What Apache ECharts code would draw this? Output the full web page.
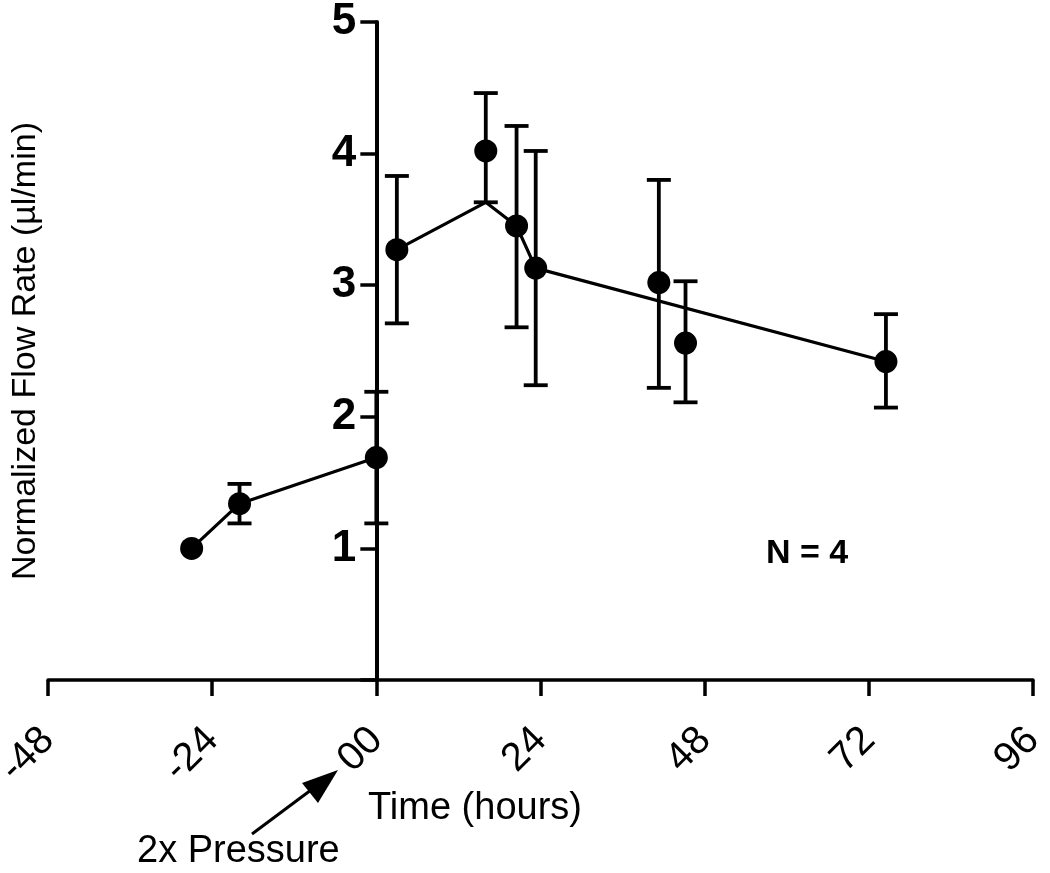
<!DOCTYPE html>
<html>
<head>
<meta charset="utf-8">
<script src="https://cdn.jsdelivr.net/npm/echarts@6/dist/echarts.min.js"></script>
<style>
  html, body { margin: 0; padding: 0; background: #fff; }
  #chart { width: 1050px; height: 873px; }
</style>
</head>
<body>
<div id="chart"></div>
<script>
// data
const hours = [-27, -20, 0, 3, 16, 20.5, 23.3, 41.3, 45.2, 74.5]
const means = [1.0, 1.34, 1.69, 3.27, 4.02, 3.45, 3.13, 3.02, 2.56, 2.42]
const upper = [null, 1.49, 2.19, 3.83, 4.46, 4.21, 4.02, 3.80, 3.03, 2.78]
const lower = [null, 1.19, 1.19, 2.71, 3.63, 2.68, 2.24, 2.22, 2.11, 2.07]

// connecting lines (two pieces, gap after the pressure change)
const lineBeforeHours = [-27, -20, 0]
const lineBeforeVals = [1.0, 1.34, 1.69]
const lineAfterHours = [3, 16, 20.5, 23.3, 74.5]
const lineAfterVals = [3.27, 3.63, 3.45, 3.13, 2.42]

const xMin = -48
const xMax = 96
const font = 'Liberation Sans, Arial, sans-serif'

const gridLeft = 48
const gridRight = 17
const plotW = 1050 - gridLeft - gridRight
// y axis sits on x = 0, so shift it in from the grid edge
const yShift = plotW * (0 - xMin) / (xMax - xMin)

const pts = hours.map((h, i) => [h, means[i]])
const errs = hours.map((h, i) => [h, lower[i], upper[i]]).filter(d => d[1] != null)

let Charts = echarts.init(document.getElementById('chart'))
Charts.setOption({
    backgroundColor: '#fff',
    animation: false,
    grid: {
        left: gridLeft,
        right: gridRight,
        top: 22,
        bottom: 193,
        containLabel: false,
        outerBoundsMode: 'none'
    },
    xAxis: {
        type: 'value',
        min: xMin,
        max: xMax,
        interval: 24,
        splitLine: { show: false },
        axisLine: {
            onZero: true,
            lineStyle: { color: '#000', width: 3.5 }
        },
        axisTick: {
            length: 16,
            lineStyle: { color: '#000', width: 3.5 }
        },
        axisLabel: {
            rotate: 45,
            margin: 54,
            fontSize: 40,
            color: '#000',
            fontFamily: font,
            formatter: v => (v === 0 ? '00' : String(v))
        }
    },
    yAxis: {
        type: 'value',
        min: 0,
        max: 5,
        interval: 1,
        offset: -yShift,
        name: 'Normalized Flow Rate (µl/min)',
        nameLocation: 'middle',
        nameGap: 334,
        nameTextStyle: { fontSize: 34, color: '#000', fontFamily: font },
        splitLine: { show: false },
        axisLine: {
            onZero: false,
            lineStyle: { color: '#000', width: 4 }
        },
        axisTick: {
            length: 16,
            lineStyle: { color: '#000', width: 3.5 }
        },
        axisLabel: {
            margin: 20,
            fontSize: 44,
            fontWeight: 'bold',
            color: '#000',
            fontFamily: font,
            formatter: v => (v === 0 ? '' : String(v))
        }
    },
    graphic: [
        {
            type: 'text',
            left: 368,
            top: 790,
            style: { text: 'Time (hours)', font: '38px ' + font, fill: '#000' }
        },
        {
            type: 'text',
            left: 137,
            top: 833,
            style: { text: '2x Pressure', font: '38px ' + font, fill: '#000' }
        },
        {
            type: 'text',
            left: 766,
            top: 537,
            style: { text: 'N = 4', font: 'bold 34px ' + font, fill: '#000' }
        },
        {
            type: 'line',
            shape: { x1: 252, y1: 834, x2: 315, y2: 787 },
            style: { stroke: '#000', lineWidth: 3 }
        },
        {
            type: 'polygon',
            shape: { points: [[338, 770], [302, 783], [318, 803]] },
            style: { fill: '#000' }
        }
    ],
    series: [
        {
            type: 'line',
            data: lineBeforeHours.map((h, i) => [h, lineBeforeVals[i]]),
            symbol: 'none',
            lineStyle: { color: '#000', width: 3.2 },
            z: 2
        },
        {
            type: 'line',
            data: lineAfterHours.map((h, i) => [h, lineAfterVals[i]]),
            symbol: 'none',
            lineStyle: { color: '#000', width: 3.2 },
            z: 2
        },
        {
            type: 'custom',
            data: errs,
            encode: { x: 0, y: [1, 2] },
            z: 3,
            renderItem: (params, api) => {
                const x = api.value(0)
                const lo = api.coord([x, api.value(1)])
                const hi = api.coord([x, api.value(2)])
                const w = 12
                const st = { stroke: '#000', lineWidth: 3.8 }
                return {
                    type: 'group',
                    children: [
                        { type: 'line', shape: { x1: hi[0], y1: hi[1], x2: lo[0], y2: lo[1] }, style: st },
                        { type: 'line', shape: { x1: hi[0] - w, y1: hi[1], x2: hi[0] + w, y2: hi[1] }, style: st },
                        { type: 'line', shape: { x1: lo[0] - w, y1: lo[1], x2: lo[0] + w, y2: lo[1] }, style: st }
                    ]
                }
            }
        },
        {
            type: 'scatter',
            data: pts,
            symbol: 'circle',
            symbolSize: 23,
            itemStyle: { color: '#000', opacity: 1 },
            z: 4
        }
    ]
})
</script>
</body>
</html>
